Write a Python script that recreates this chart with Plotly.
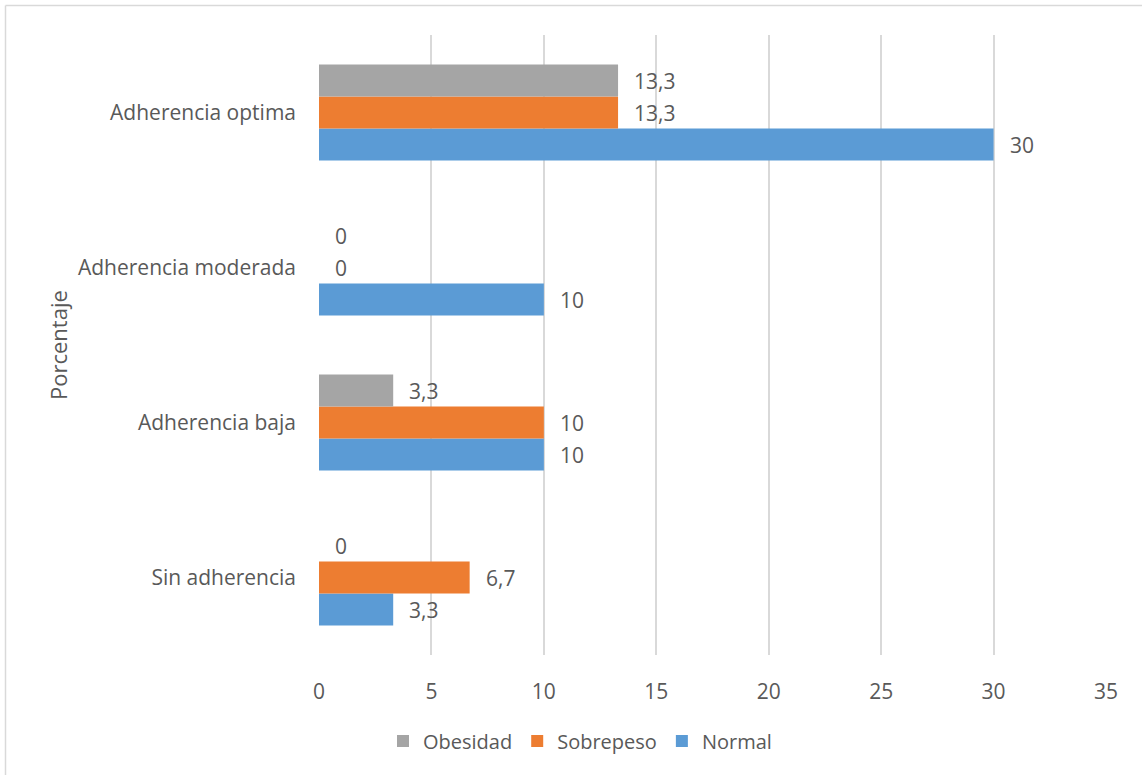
import plotly.graph_objects as go

# Adherence categories, bottom to top
categories = ["Sin adherencia", "Adherencia baja", "Adherencia moderada", "Adherencia optima"]

# Percentages per BMI group
normal = [3.3, 10, 10, 30]
sobrepeso = [6.7, 10, 0, 13.3]
obesidad = [0, 3.3, 0, 13.3]

series = [
    ("Normal", normal, "#5b9bd5", -32),
    ("Sobrepeso", sobrepeso, "#ed7d31", 0),
    ("Obesidad", obesidad, "#a5a5a5", 32),
]

x_ticks = [0, 5, 10, 15, 20, 25, 30, 35]

FONT = "Open Sans, Noto Sans, sans-serif"
TXT = "#595959"
FS = 21
W, H = 1142, 775
L, R, T, B = 319, 36, 35, 120
PW, PH = W - L - R, H - T - B

fig = go.Figure()
for name, vals, color, shift in series:
    fig.add_trace(go.Bar(
        name=name, y=categories, x=vals, orientation="h",
        marker=dict(color=color, line=dict(width=0)),
    ))
    # value labels just past each bar end
    for cat, v in zip(categories, vals):
        fig.add_annotation(
            x=v, y=cat, xref="x", yref="y",
            text=f"{v:g}".replace(".", ","),
            showarrow=False, xanchor="left", yanchor="middle",
            xshift=14, yshift=shift,
            font=dict(family=FONT, size=FS, color=TXT),
        )

# y-axis title
fig.add_annotation(
    x=(58 - L) / PW, y=0.5, xref="paper", yref="paper",
    text="Porcentaje", textangle=-90, showarrow=False,
    xanchor="center", yanchor="middle",
    font=dict(family=FONT, size=22, color=TXT),
)

# chart frame (left and top edges)
fx = (5.5 - L) / PW
fy = (H - 5.5 - B) / PH
fig.add_shape(type="line", xref="paper", yref="paper",
              x0=fx, x1=fx, y0=-1, y1=fy,
              line=dict(color="#d9d9d9", width=1.5))
fig.add_shape(type="line", xref="paper", yref="paper",
              x0=fx, x1=1.5, y0=fy, y1=fy,
              line=dict(color="#d9d9d9", width=1.5))

fig.update_layout(
    width=W, height=H,
    margin=dict(l=L, r=R, t=T, b=B),
    paper_bgcolor="white", plot_bgcolor="white",
    barmode="group", bargap=0.38, bargroupgap=0,
    separators=",.",
    font=dict(family=FONT, size=FS, color=TXT),
    showlegend=True,
    legend=dict(
        orientation="h", traceorder="reversed",
        x=(580 - L) / PW, xanchor="center",
        y=(H - B - 741) / PH, yanchor="middle",
        font=dict(family=FONT, size=20, color=TXT),
        itemwidth=30,
    ),
    xaxis=dict(
        range=[0, 35], tickvals=x_ticks,
        showgrid=True, gridcolor="#d9d9d9", gridwidth=1.5,
        zeroline=False, showline=False, ticks="",
        ticklabelstandoff=22,
        tickfont=dict(family=FONT, size=FS, color=TXT),
    ),
    yaxis=dict(
        type="category", categoryorder="array", categoryarray=categories,
        showgrid=False, zeroline=False, showline=False, ticks="",
        ticklabelstandoff=22,
        tickfont=dict(family=FONT, size=FS, color=TXT),
    ),
)

fig.write_html("out.html")
